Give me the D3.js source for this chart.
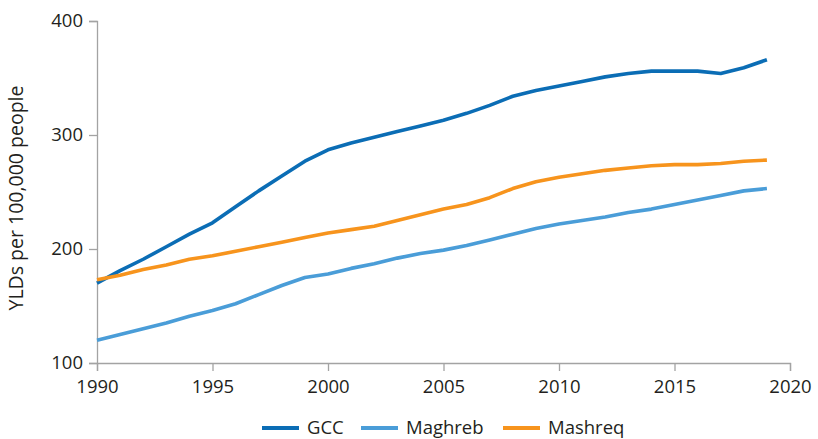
<!DOCTYPE html>
<html><head><meta charset="utf-8">
<script src="https://cdn.jsdelivr.net/npm/d3@7"></script>
<style>body{margin:0;background:#fff}svg{display:block}text{font-family:"Open Sans",sans-serif;fill:#231f20}</style>
</head><body><svg id="c" width="818" height="439"></svg>
<script>
const years = d3.range(1990, 2020);
const gcc = [170,181,191,202,213,223,237,251,264,277,287,293,298,303,308,313,319,326,334,339,343,347,351,354,356,356,356,354,359,366];
const maghreb = [120,125,130,135,141,146,152,160,168,175,178,183,187,192,196,199,203,208,213,218,222,225,228,232,235,239,243,247,251,253];
const mashreq = [173,177,182,186,191,194,198,202,206,210,214,217,220,225,230,235,239,245,253,259,263,266,269,271,273,274,274,275,277,278];
const seriesNames = ["GCC","Maghreb","Mashreq"];
const colors = ["#0b6db5","#4a9dd8","#f7941d"];
const xTicks = [1990,1995,2000,2005,2010,2015,2020];
const yTicks = [100,200,300,400];

const svg = d3.select("#c");
const x = d3.scaleLinear().domain([1990,2020]).range([97,790]);
const y = d3.scaleLinear().domain([100,400]).range([363,21]);
const axisColor = "#a3a3a3";

const xa = svg.append("g").attr("transform","translate(0,363)")
  .call(d3.axisBottom(x).tickValues(xTicks).tickFormat(d3.format("d")).tickSize(8).tickPadding(5));
const ya = svg.append("g").attr("transform","translate(97,0)")
  .call(d3.axisLeft(y).tickValues(yTicks).tickSize(8).tickPadding(6));
[xa,ya].forEach(g=>{
  g.select(".domain").attr("stroke",axisColor).attr("stroke-width",1.3);
  g.selectAll(".tick line").attr("stroke",axisColor).attr("stroke-width",1.3);
  g.selectAll(".tick text").attr("font-size",18.5).attr("font-family","Open Sans").attr("fill","#231f20");
});
xa.selectAll(".tick text").attr("dy","0.9em");

svg.append("text").attr("transform","translate(23,198) rotate(-90)")
  .attr("text-anchor","middle").attr("font-size",19.5).text("YLDs per 100,000 people");

const line = d3.line().x((d,i)=>x(years[i])).y(d=>y(d));
[gcc,maghreb,mashreq].forEach((s,i)=>{
  svg.append("path").datum(s).attr("d",line).attr("fill","none")
    .attr("stroke",colors[i]).attr("stroke-width",3.6).attr("stroke-linejoin","round");
});

const legX = [262,361,503];
seriesNames.forEach((n,i)=>{
  const g = svg.append("g").attr("transform",`translate(${legX[i]},428)`);
  g.append("line").attr("x1",0).attr("x2",37).attr("stroke",colors[i]).attr("stroke-width",4);
  g.append("text").attr("x",45).attr("dy","0.35em").attr("font-size",18.5).text(n);
});
</script></body></html>
